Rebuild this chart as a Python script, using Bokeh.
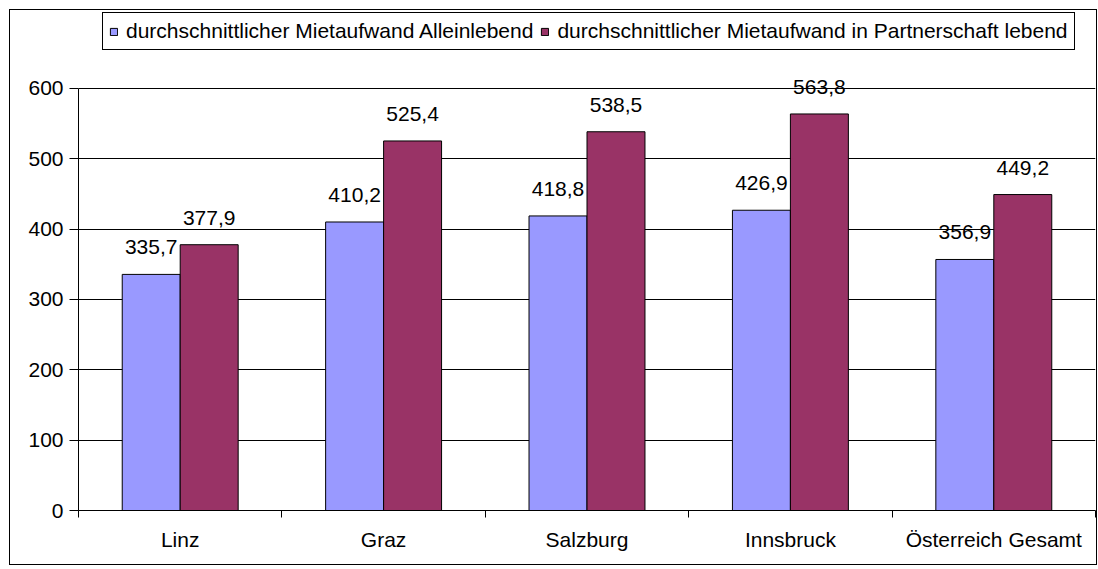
from bokeh.plotting import figure
from bokeh.models import ColumnDataSource, FixedTicker, Range1d, Legend, LegendItem
from bokeh.core.properties import value
from bokeh.embed import file_html
from bokeh.resources import INLINE

categories = ["Linz", "Graz", "Salzburg", "Innsbruck", "Österreich Gesamt"]
allein = [335.7, 410.2, 418.8, 426.9, 356.9]
partner = [377.9, 525.4, 538.5, 563.8, 449.2]
series_names = ["durchschnittlicher Mietaufwand Alleinlebend",
                "durchschnittlicher Mietaufwand in Partnerschaft lebend"]
y_ticks = [0, 100, 200, 300, 400, 500, 600]

FONT = "Liberation Sans"
FS = "21px"
BW = 0.285

centers = [i + 0.5 for i in range(len(categories))]
bounds = [float(i) for i in range(len(categories) + 1)]

def fmt(v):
    return f"{v:.1f}".replace(".", ",")

src_a = ColumnDataSource(dict(x=[c - BW / 2 for c in centers], y=allein, lab=[fmt(v) for v in allein]))
src_p = ColumnDataSource(dict(x=[c + BW / 2 for c in centers], y=partner, lab=[fmt(v) for v in partner]))

# frame spans the full height above the axis so the legend can sit inside it
p = figure(width=1088, height=556, output_backend="svg", toolbar_location=None,
           x_range=Range1d(0, len(categories)), y_range=Range1d(0, 710.9),
           min_border_left=68, min_border_right=3, min_border_top=0, min_border_bottom=56)
p.styles = {"border": "1px solid black", "margin-left": "9px", "margin-top": "9px"}
p.outline_line_color = None
p.background_fill_color = "white"
p.border_fill_color = "white"

r1 = p.vbar(x="x", top="y", width=BW, source=src_a, fill_color="#9999FF", line_color="black", line_width=1)
r2 = p.vbar(x="x", top="y", width=BW, source=src_p, fill_color="#993366", line_color="black", line_width=1)

for s in (src_a, src_p):
    p.text(x="x", y="y", text="lab", source=s, text_font=value(FONT), text_font_size=value(FS),
           text_align="center", text_baseline="alphabetic", y_offset=-27, text_color="black")

# axes
p.xaxis.ticker = FixedTicker(ticks=centers, minor_ticks=bounds)
p.xaxis.major_label_overrides = {c: n for c, n in zip(centers, categories)}
p.xaxis.major_tick_out = 0
p.xaxis.major_tick_in = 0
p.xaxis.minor_tick_out = 7
p.xaxis.minor_tick_in = 0
p.xaxis.minor_tick_line_color = "black"
p.xaxis.major_label_standoff = 10
p.xaxis.axis_line_color = "black"

p.yaxis.ticker = FixedTicker(ticks=y_ticks)
p.yaxis.bounds = (0, 600)
p.yaxis.major_tick_out = 9
p.yaxis.major_tick_in = 0
p.yaxis.minor_tick_line_color = None
p.yaxis.major_label_standoff = 6
p.yaxis.axis_line_color = "black"

for ax in (p.xaxis, p.yaxis):
    ax.major_label_text_font = FONT
    ax.major_label_text_font_size = FS
    ax.major_label_text_color = "black"
    ax.major_tick_line_color = "black"

p.xgrid.visible = False
p.ygrid.ticker = FixedTicker(ticks=y_ticks)
p.ygrid.grid_line_color = "black"
p.ygrid.grid_line_width = 1

legend = Legend(items=[LegendItem(label=series_names[0], renderers=[r1]),
                       LegendItem(label=series_names[1], renderers=[r2])],
                location=(24, 460), orientation="horizontal",
                label_text_font=FONT, label_text_font_size=FS, label_text_color="black",
                glyph_width=9, glyph_height=9, label_standoff=8, spacing=7,
                padding=6, margin=0, border_line_color="black", border_line_width=1,
                border_line_alpha=1,
                background_fill_color="white", background_fill_alpha=1)
p.add_layout(legend, "center")

open("out.html", "w").write(file_html(p, INLINE))
